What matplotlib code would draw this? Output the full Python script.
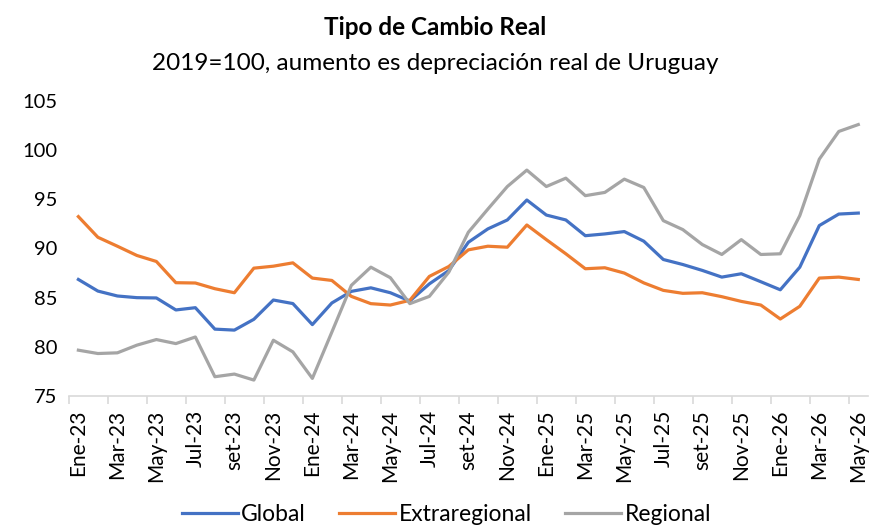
import matplotlib.pyplot as plt
import numpy as np

plt.rcParams['font.family'] = ['Lato', 'DejaVu Sans']

# meses Ene-23 .. May-26
meses = ['Ene', 'Feb', 'Mar', 'Abr', 'May', 'Jun', 'Jul', 'Ago', 'set', 'Oct', 'Nov', 'Dic']
labels = []
for a in ['23', '24', '25', '26']:
    for m in meses:
        labels.append(m + '-' + a)
labels = labels[:41]

global_tcr = [86.85, 85.67, 85.17, 85.0, 84.97, 83.75, 83.98, 81.8, 81.7, 82.8,
              84.76, 84.4, 82.26, 84.46, 85.64, 86.0, 85.5, 84.66, 86.4, 87.76,
              90.63, 91.99, 92.9, 94.93, 93.4, 92.9, 91.3, 91.48, 91.72, 90.74,
              88.88, 88.37, 87.77, 87.09, 87.43, 86.62, 85.8, 88.1, 92.33, 93.5,
              93.6]
extrarregional = [93.24, 91.14, 90.23, 89.29, 88.68, 86.52, 86.49, 85.91, 85.5, 88.0,
                  88.2, 88.54, 86.99, 86.75, 85.13, 84.39, 84.25, 84.73, 87.16, 88.17,
                  89.86, 90.23, 90.13, 92.39, 90.9, 89.46, 87.94, 88.04, 87.5, 86.5,
                  85.74, 85.44, 85.5, 85.1, 84.62, 84.25, 82.83, 84.12, 86.99, 87.09,
                  86.85]
regional = [79.66, 79.32, 79.39, 80.17, 80.74, 80.33, 81.0, 76.96, 77.23, 76.62,
            80.67, 79.49, 76.79, 81.5, 86.25, 88.1, 87.03, 84.39, 85.13, 87.6,
            91.65, 94.0, 96.3, 97.97, 96.3, 97.15, 95.37, 95.7, 97.05, 96.2,
            92.83, 91.92, 90.4, 89.39, 90.9, 89.39, 89.46, 93.34, 99.08, 101.9,
            102.6]

x = np.arange(len(labels))

fig = plt.figure(figsize=(8.71, 5.25), dpi=100)
ax = fig.add_axes([0.0788, 0.2457, 0.9178, 0.562])

ax.plot(x, global_tcr, color='#4472C4', lw=2.3, label='Global')
ax.plot(x, extrarregional, color='#ED7D31', lw=2.3, label='Extraregional')
ax.plot(x, regional, color='#A5A5A5', lw=2.3, label='Regional')

ax.set_xlim(-0.5, len(labels) - 0.5)
ax.set_ylim(75, 105)
ax.set_yticks(range(75, 106, 5))
ax.tick_params(axis='y', length=0, labelsize=14.5, pad=8)

ax.set_xticks(x[::2])
ax.set_xticklabels(labels[::2], rotation=90, fontsize=15)
ax.set_xticks(np.arange(-0.5, len(labels), 2), minor=True)
ax.tick_params(axis='x', which='major', length=0, pad=10)
ax.tick_params(axis='x', which='minor', length=6, color='#D9D9D9', width=1.2)

for s in ['top', 'right', 'left']:
    ax.spines[s].set_visible(False)
ax.spines['bottom'].set_color('#D9D9D9')
ax.spines['bottom'].set_linewidth(1.2)

fig.text(0.5, 0.947, 'Tipo de Cambio Real', ha='center', va='center',
         fontsize=17.5, fontweight='bold')
fig.text(0.5, 0.88, '2019=100, aumento es depreciación real de Uruguay',
         ha='center', va='center', fontsize=17.5)

fig.legend(loc='center', bbox_to_anchor=(0.5126, 0.02), ncol=3, frameon=False,
           fontsize=16.5, handlelength=2.45, columnspacing=1.45, handletextpad=0.15)

fig.savefig('out.png', dpi=100)
